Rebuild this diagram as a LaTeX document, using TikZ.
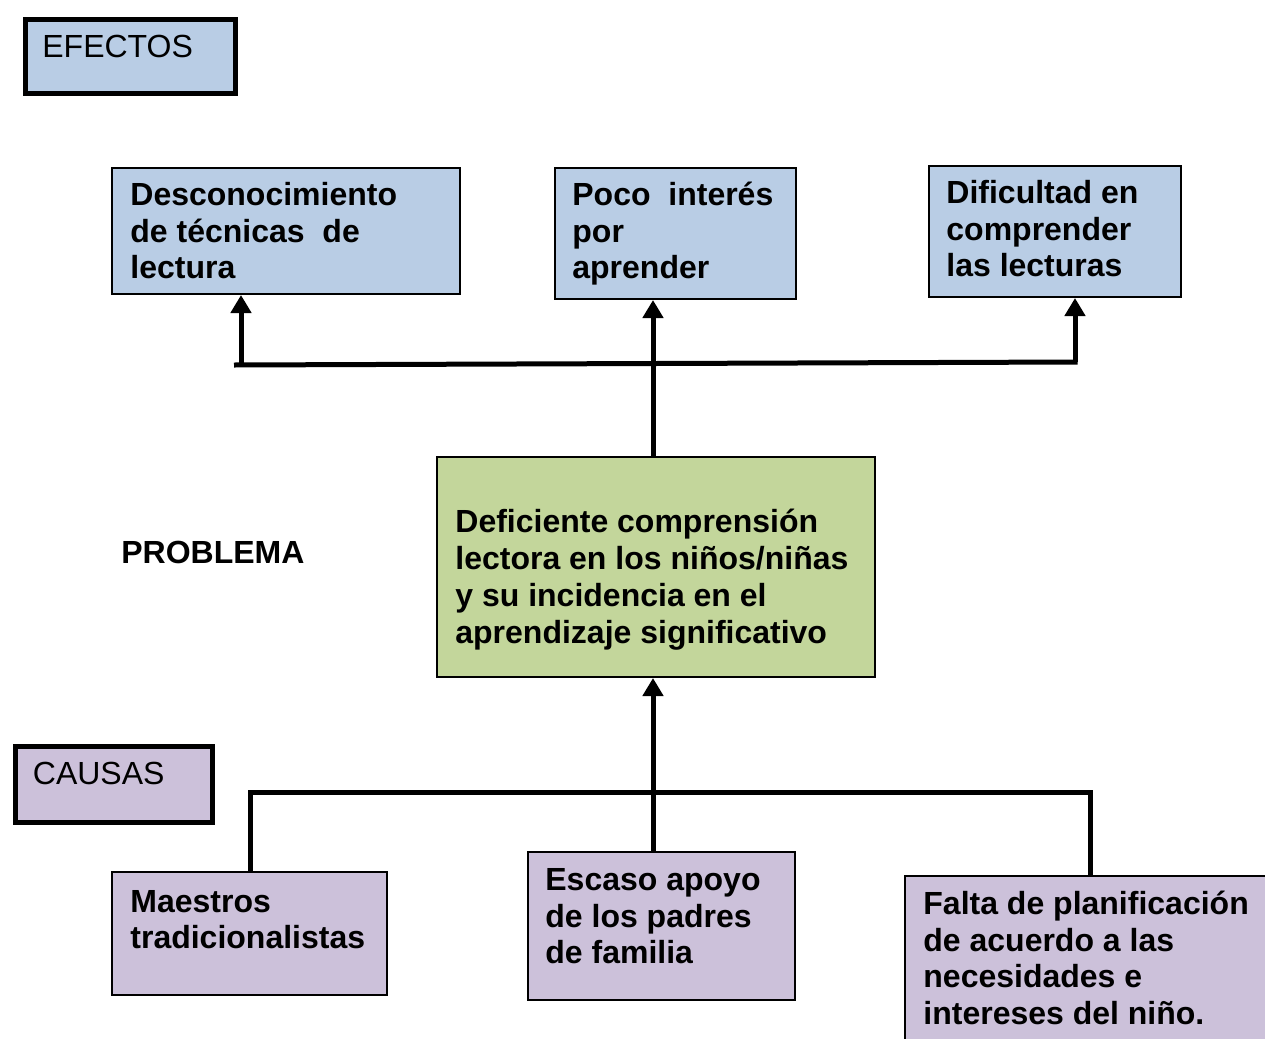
\documentclass[tikz,border=0pt]{standalone}
\usepackage{fontspec}
\setmainfont{Liberation Sans}
\usetikzlibrary{arrows.meta}
\definecolor{effblue}{HTML}{B9CDE5}
\definecolor{probgreen}{HTML}{C3D69B}
\definecolor{causepurple}{HTML}{CCC1DA}
\begin{document}
\begin{tikzpicture}[x=0.5pt,y=-0.5pt,
  box/.style={draw=black, line width=1pt, inner sep=0pt, anchor=north west},
  tagbox/.style={draw=black, line width=2.5pt, inner sep=0pt, anchor=north west},
  txt/.style={anchor=north west, inner sep=0pt, align=left, font=\bfseries\fontsize{16}{18.25}\selectfont},
  tagtxt/.style={anchor=north west, inner sep=0pt, align=left, font=\fontsize{16}{18.25}\selectfont},
  conn/.style={line width=2.5pt},
  arr/.style={line width=2.5pt, -{Triangle[width=10pt,length=9pt]}}]
\useasboundingbox (0,0) rectangle (1265,1039);
\clip (0,0) rectangle (1265,1039);

% tag boxes
\node[tagbox, fill=effblue, minimum width=105pt, minimum height=37pt] (efb) at (22.5,16.5) {};
\node[tagtxt] (eft) at (42,32) {\strut EFECTOS};
\node[tagbox, fill=causepurple, minimum width=98.5pt, minimum height=38pt] (cab) at (12.5,743.5) {};
\node[tagtxt] (cat) at (32.5,759) {\strut CAUSAS};
\node[txt] (pl) at (121,538) {\strut PROBLEMA};

% effects
\node[box, fill=effblue, minimum width=174pt, minimum height=63pt] (e1) at (111,167) {};
\node[txt] (e1t) at (130,180) {\strut Desconocimiento\\de técnicas\ \ de\\lectura};
\node[box, fill=effblue, minimum width=120.5pt, minimum height=65.5pt] (e2) at (554,167) {};
\node[txt] (e2t) at (572,180) {\strut Poco\ \ interés\\por\\aprender};
\node[box, fill=effblue, minimum width=126pt, minimum height=65.5pt] (e3) at (928,165) {};
\node[txt] (e3t) at (946,178) {\strut Dificultad en\\comprender\\las lecturas};

% problem
\node[box, fill=probgreen, minimum width=219pt, minimum height=110pt] (prob) at (436,456) {};
\node[txt, font=\bfseries\fontsize{16}{18.5}\selectfont] (probt) at (455,506) {\strut Deficiente comprensión\\lectora en los niños/niñas\\y su incidencia en el\\aprendizaje significativo};

% causes
\node[box, fill=causepurple, minimum width=137.5pt, minimum height=61.5pt] (c1) at (111,871) {};
\node[txt] (c1t) at (130,886.5) {\strut Maestros\\tradicionalistas};
\node[box, fill=causepurple, minimum width=133.5pt, minimum height=74pt] (c2) at (527,851) {};
\node[txt] (c2t) at (545,865) {\strut Escaso apoyo\\de los padres\\de familia};
\node[box, fill=causepurple, minimum width=193pt, minimum height=102.5pt] (c3) at (904,875) {};
\node[txt] (c3t) at (923,889) {\strut Falta de planificación\\de acuerdo a las\\necesidades e\\intereses del niño.};

% effect connectors
\coordinate (hl) at (234,365);
\coordinate (hr) at (1077.5,362);
\coordinate (a1) at (241,365);
\coordinate (mx) at (653,364);
\coordinate (a3) at (1075,362);
\draw[conn] (hl) -- (hr);
\draw[arr] (a1) -- (a1 |- e1.south);
\draw[arr] (a3) -- (a3 |- e3.south);
\draw[arr] (prob.north -| mx) -- (e2.south -| mx);

% cause connectors
\coordinate (b1) at (250,792);
\coordinate (b2) at (1090,792);
\draw[conn, line join=miter] (c1.north -| b1) -- (b1) -- (b2) -- (c3.north -| b2);
\draw[arr] (c2.north -| mx) -- (prob.south -| mx);
\end{tikzpicture}
\end{document}
